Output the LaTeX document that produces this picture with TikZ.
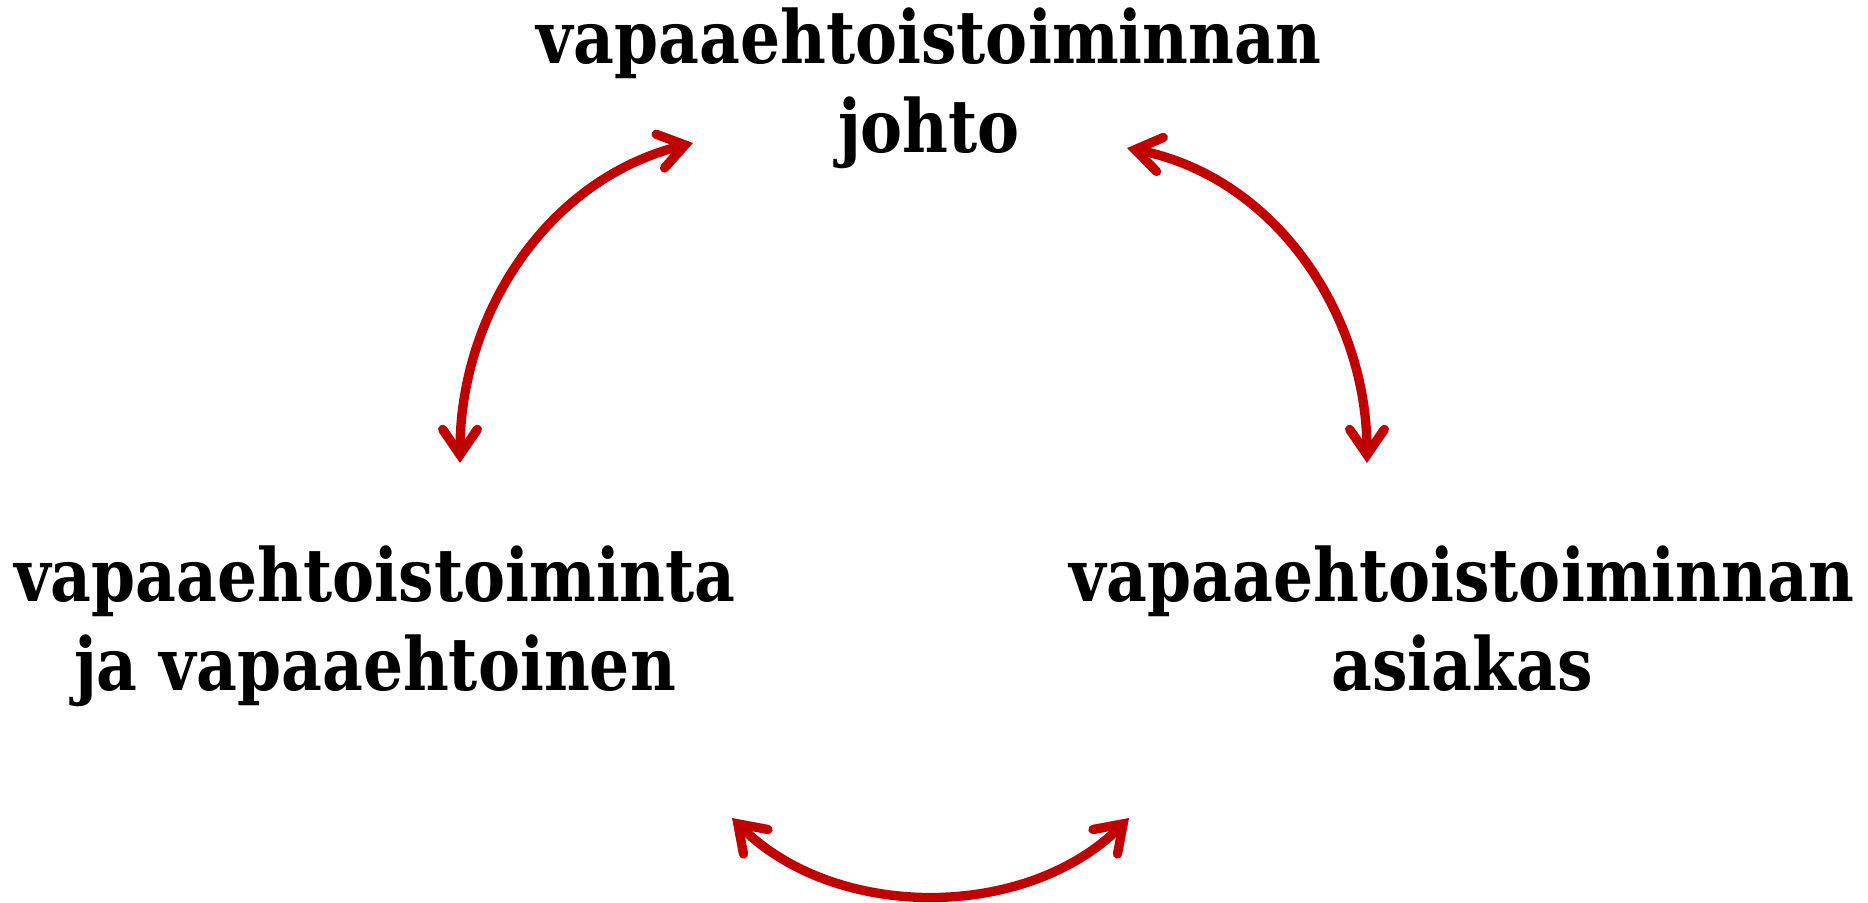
\documentclass[tikz,border=0pt]{standalone}
\usepackage{fontspec}
\setmainfont{DejaVu Serif}[FakeStretch=0.86]
\usetikzlibrary{arrows.meta}
\definecolor{arrowred}{RGB}{192,0,0}

\tikzset{every picture/.style={line width=0.75pt}}
\tikzset{
  rolebox/.style={align=center, inner sep=0pt, font=\bfseries\fontsize{55}{66.5}\selectfont},
  redlink/.style={color=arrowred, line width=7pt, line cap=round,
    {Straight Barb[length=19pt,width=26pt,line cap=round]}-{Straight Barb[length=19pt,width=26pt,line cap=round]}}
}

\begin{document}
\begin{tikzpicture}[x=0.75pt,y=0.75pt,yscale=-1,xscale=1]
		\useasboundingbox (0,0) rectangle (1868,903);
		
		% Text Node
		\node [rolebox, anchor=base] (johto) at (929,152) {vapaaehtoistoiminnan\\johto};
		% Text Node
		\node [rolebox, anchor=base] (toiminta) at (375,690) {vapaaehtoistoiminta\\ja vapaaehtoinen};
		% Text Node
		\node [rolebox, anchor=base] (asiakas) at (1462,690) {vapaaehtoistoiminnan\\asiakas};
		
		% Arrow ends
		\coordinate (johtoL) at (693,143);
		\coordinate (johtoR) at (1127,148);
		\coordinate (toimintaT) at (460,463);
		\coordinate (asiakasT) at (1367,463);
		\coordinate (toimintaB) at (732,818);
		\coordinate (asiakasB) at (1129,818);
		
		%Curved Arrow
		\draw [redlink] (johtoL) .. controls (548,179) and (460,313) .. (toimintaT);
		%Curved Arrow
		\draw [redlink] (johtoR) .. controls (1274,177) and (1367,313) .. (asiakasT);
		%Curved Arrow
		\draw [redlink] (toimintaB) .. controls (835,921) and (1026,921) .. (asiakasB);
	\end{tikzpicture}
\end{document}
